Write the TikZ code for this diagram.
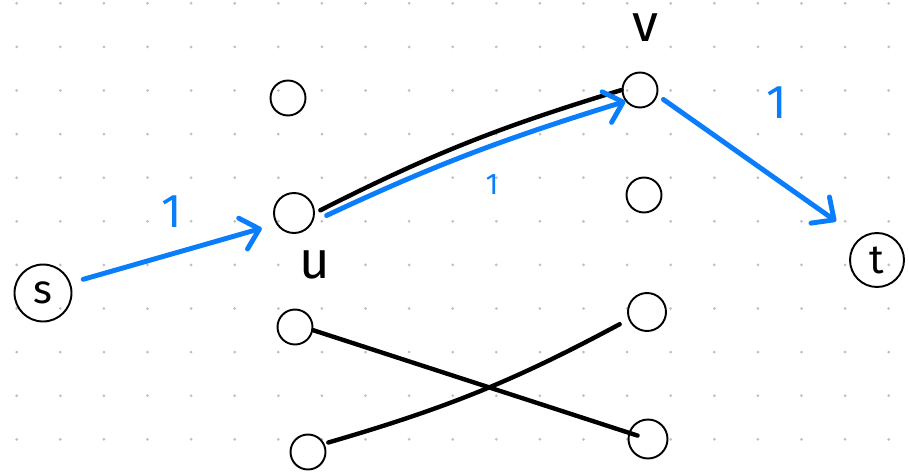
\documentclass[tikz,border=0pt]{standalone}
\usepackage{fontspec}
\setmainfont{Fira Sans}
\usepackage{tikz}
\usetikzlibrary{positioning}
\usetikzlibrary{arrows.meta}

\definecolor{flowblue}{RGB}{10,125,250}
\definecolor{dotgray}{RGB}{192,192,192}

\begin{document}
\begin{tikzpicture}	[
		x=0.02cm, y=-0.02cm,
		vert/.style={draw, circle, line width=1.1pt, inner sep=0, minimum size=0.7cm},
		endpt/.style={vert, minimum size=1.14cm, font=\fontsize{23}{23}\selectfont},
		matchline/.style={line width=2.5pt, line cap=round},
		flow/.style={draw=flowblue, line width=2.8pt, line cap=round,
			-{Straight Barb[length=3.4mm,width=6.4mm,round]}},
		lbl/.style={font=\fontsize{30}{30}\selectfont},
		wt/.style={text=flowblue, font=\fontsize{27}{27}\selectfont}
	]
		\fill[white] (0,0) rectangle (909,473);
		\useasboundingbox (0,0) rectangle (909,473);
		% dotted paper
		\foreach \i in {0,...,20}
			\foreach \j in {0,...,10}
				\fill[dotgray] (16.7+43.6*\i, 3.3+43.6*\j) circle (0.3mm);

		\path
			(43,293) node[endpt](s){s}
			(877,260) node[endpt, minimum size=1.08cm](t){t}
			(294,213) node[vert, minimum width=0.68cm, minimum height=0.8cm](u){}
			(640,90) node[vert](v){}
			(288,98) node[vert](p){}
			(644,195) node[vert](q){}
			(295,327) node[vert](l1){}
			(308,452) node[vert](l2){}
			(647,312) node[vert, minimum size=0.76cm](r1){}
			(648,439) node[vert, minimum size=0.78cm](r2){}
			(315,265) node[lbl](ulbl){u}
			(645,28) node[lbl](vlbl){v}
			(172,212) node[wt](w1){1}
			(492,185) node[wt, font=\fontsize{17}{17}\selectfont](w2){1}
			(777,103) node[wt](w3){1}
		;

		% matched edges
		\draw[matchline]
			(u.east) [shorten <=0.12cm] to[bend left=5] (v.west)
		;
		\draw[matchline, shorten >=0.22cm]
			(l1.-10) -- (r2.center)
		;
		\draw[matchline, shorten <=0.08cm, shorten >=0.2cm]
			(l2.27) to[bend right=6] (r1.202)
		;

		% augmenting path
		\draw[flow, shorten <=0.26cm, shorten >=0.3cm] (s.20) -- (u.212);
		\draw[flow, shorten <=0.3cm] (u.-25) to[bend left=4] (v.218);
		\draw[flow, shorten <=0.14cm, shorten >=0.58cm] (v.-17) -- (t.128);
	\end{tikzpicture}
\end{document}
